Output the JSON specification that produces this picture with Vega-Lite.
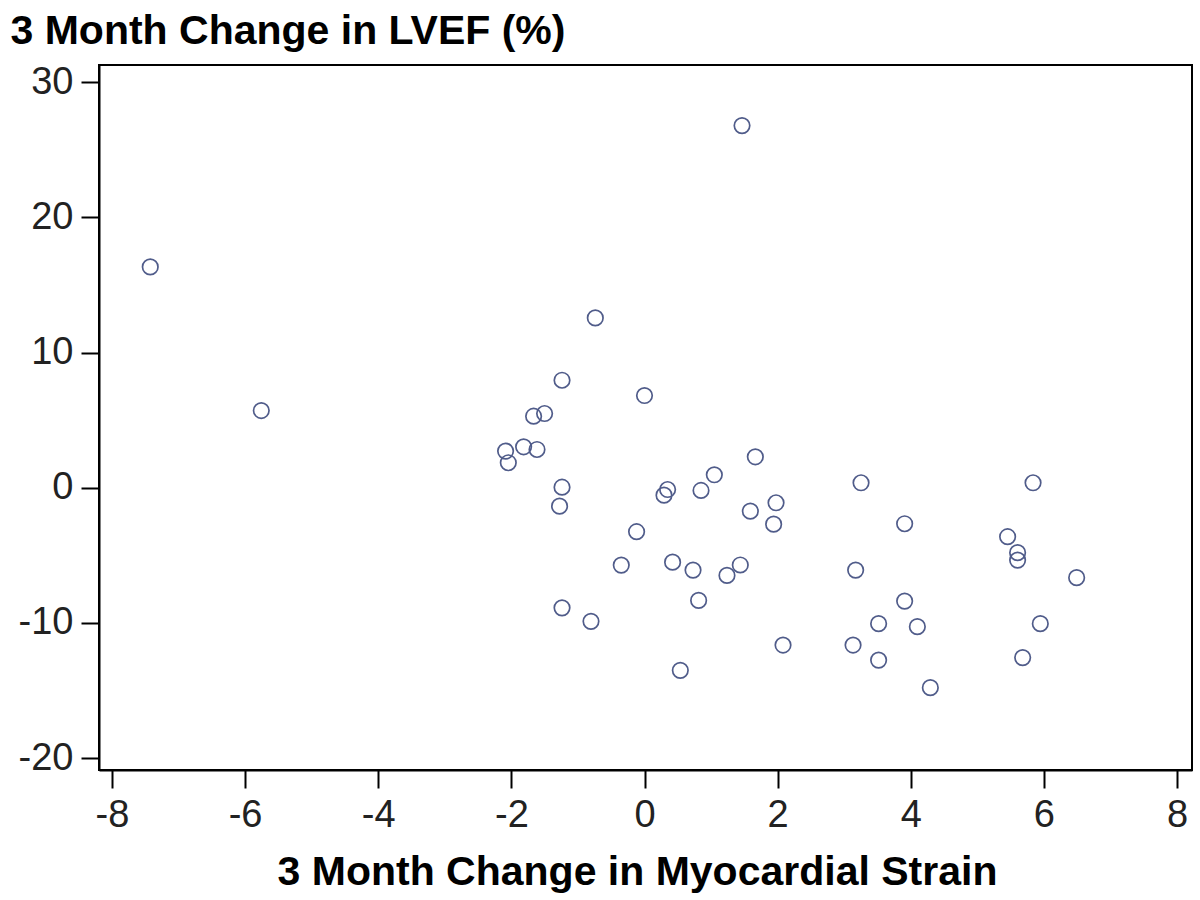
{
  "$schema": "https://vega.github.io/schema/vega-lite/v6.json",
  "width": 1093,
  "height": 705,
  "autosize": "none",
  "padding": {"left": 99, "top": 65, "right": 8, "bottom": 130},
  "background": "white",
  "config": {
    "view": {"stroke": "black", "strokeWidth": 2},
    "axis": {"grid": false, "domainColor": "black", "domainWidth": 2, "tickColor": "black", "tickWidth": 2, "tickSize": 18, "labelFont": "Liberation Sans", "labelFontSize": 38, "labelColor": "#222", "labelPadding": 8, "labelExpr": "'' + datum.value", "titleFont": "Liberation Sans", "titleFontWeight": "bold", "titleFontSize": 41, "titleColor": "black"}
  },
  "data": {"values": [
    {"strain": -7.425, "lvef": 16.33},
    {"strain": 1.465, "lvef": 26.78},
    {"strain": -5.757, "lvef": 5.71},
    {"strain": -0.739, "lvef": 12.56},
    {"strain": -1.239, "lvef": 7.95},
    {"strain": 0.0, "lvef": 6.82},
    {"strain": -1.666, "lvef": 5.29},
    {"strain": -1.501, "lvef": 5.49},
    {"strain": -2.087, "lvef": 2.71},
    {"strain": -2.046, "lvef": 1.85},
    {"strain": -1.816, "lvef": 3.03},
    {"strain": -1.615, "lvef": 2.83},
    {"strain": 1.665, "lvef": 2.29},
    {"strain": 1.049, "lvef": 0.96},
    {"strain": 0.849, "lvef": -0.2},
    {"strain": 0.347, "lvef": -0.13},
    {"strain": 0.293, "lvef": -0.55},
    {"strain": -1.239, "lvef": 0.04},
    {"strain": -1.276, "lvef": -1.36},
    {"strain": 1.976, "lvef": -1.11},
    {"strain": 1.59, "lvef": -1.73},
    {"strain": 1.94, "lvef": -2.69},
    {"strain": -0.119, "lvef": -3.25},
    {"strain": -0.349, "lvef": -5.72},
    {"strain": 0.422, "lvef": -5.5},
    {"strain": 0.729, "lvef": -6.09},
    {"strain": 1.239, "lvef": -6.48},
    {"strain": 1.439, "lvef": -5.71},
    {"strain": 0.813, "lvef": -8.33},
    {"strain": -1.239, "lvef": -8.88},
    {"strain": -0.804, "lvef": -9.88},
    {"strain": 2.081, "lvef": -11.63},
    {"strain": 0.538, "lvef": -13.5},
    {"strain": 3.253, "lvef": 0.37},
    {"strain": 5.837, "lvef": 0.37},
    {"strain": 3.908, "lvef": -2.66},
    {"strain": 5.455, "lvef": -3.62},
    {"strain": 5.605, "lvef": -4.8},
    {"strain": 5.605, "lvef": -5.35},
    {"strain": 3.172, "lvef": -6.09},
    {"strain": 6.492, "lvef": -6.65},
    {"strain": 3.908, "lvef": -8.38},
    {"strain": 3.517, "lvef": -10.05},
    {"strain": 4.099, "lvef": -10.27},
    {"strain": 5.946, "lvef": -10.05},
    {"strain": 3.133, "lvef": -11.63},
    {"strain": 3.517, "lvef": -12.74},
    {"strain": 5.681, "lvef": -12.56},
    {"strain": 4.294, "lvef": -14.78}
  ]},
  "mark": {"type": "point", "shape": "circle", "filled": false, "size": 240, "stroke": "#505c8a", "strokeWidth": 1.7, "opacity": 1},
  "encoding": {
    "x": {
      "field": "strain", "type": "quantitative",
      "scale": {"domain": [-8.195, 8.225], "nice": false, "zero": false},
      "axis": {"values": [-8, -6, -4, -2, 0, 2, 4, 6, 8], "title": "3 Month Change in Myocardial Strain", "titleX": 538, "titleY": 114, "titleBaseline": "alphabetic", "titleAlign": "center", "titleAnchor": null}
    },
    "y": {
      "field": "lvef", "type": "quantitative",
      "scale": {"domain": [-20.87, 31.26], "nice": false, "zero": false},
      "axis": {"values": [-20, -10, 0, 10, 20, 30], "title": "3 Month Change in LVEF (%)", "titleAngle": 0, "titleAlign": "left", "titleBaseline": "alphabetic", "titleX": -89, "titleY": -22, "titleAnchor": null}
    }
  }
}
